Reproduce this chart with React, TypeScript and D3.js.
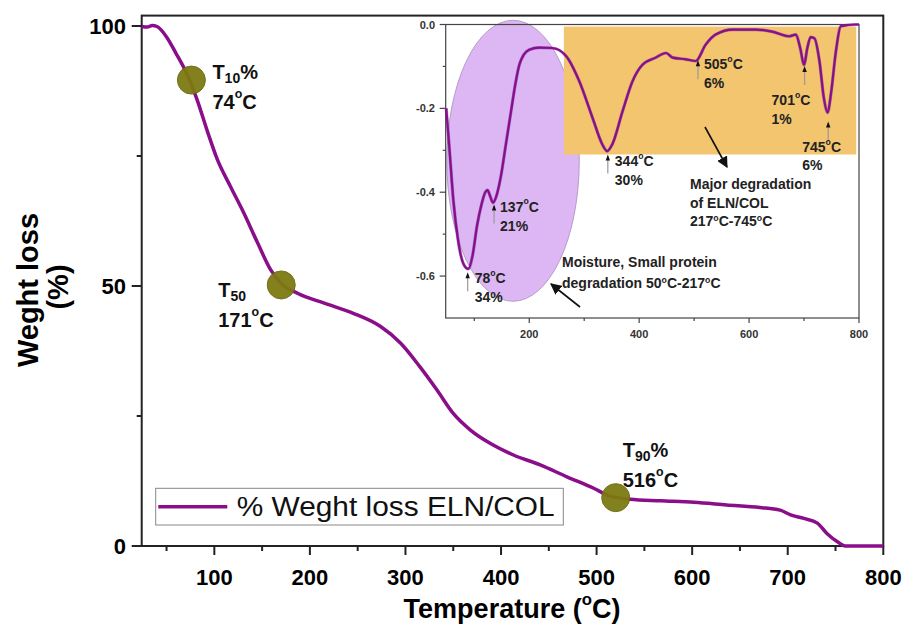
import * as d3 from "d3";
import React from "react";

const W = 906;
const H = 628;

// main TGA curve (temperature, % weight)
const tgaTemp = [24, 30, 35, 40, 50, 60, 71, 82, 93, 103, 117, 131, 145, 159, 170, 187, 215, 246, 274, 295, 315, 333, 350, 368, 389, 413, 441, 469, 497, 514, 535, 567, 602, 636, 671, 692, 703, 717, 731, 741, 752, 760, 800];
const tgaWeight = [99.9, 99.8, 100.1, 99.9, 97.9, 94.7, 90.9, 85.8, 79.6, 74.4, 69.1, 64, 58.4, 53.1, 50.5, 48.6, 46.7, 44.7, 42.2, 39, 34.5, 30, 25.5, 22.3, 19.7, 17.5, 15.6, 13.3, 11.1, 9.6, 9.0, 8.7, 8.4, 7.9, 7.4, 6.9, 6.0, 5.3, 4.4, 2.4, 0.8, 0, 0];

// inset DTG curve
const dtgTemp = [49, 55, 62, 70, 80, 89, 97, 105, 113, 120, 124, 129, 134, 140, 148, 157, 167, 175, 182, 190, 200, 218, 242, 267, 291, 315, 333, 342, 351, 370, 388, 406, 430, 449, 461, 485, 503, 521, 539, 570, 612, 642, 673, 685, 693, 700, 706, 712, 719, 728, 736, 743, 749, 758, 767, 794, 800];
const dtgValue = [-0.2, -0.3, -0.42, -0.51, -0.57, -0.583, -0.55, -0.48, -0.43, -0.4, -0.395, -0.41, -0.425, -0.41, -0.365, -0.29, -0.206, -0.14, -0.096, -0.072, -0.06, -0.055, -0.056, -0.075, -0.135, -0.222, -0.286, -0.302, -0.286, -0.206, -0.135, -0.096, -0.079, -0.068, -0.079, -0.083, -0.087, -0.048, -0.024, -0.012, -0.012, -0.017, -0.028, -0.024, -0.056, -0.096, -0.056, -0.03, -0.033, -0.087, -0.175, -0.21, -0.165, -0.064, -0.004, 0, 0];

const xTicksMain = [100, 200, 300, 400, 500, 600, 700, 800];
const xMinorMain = [50, 150, 250, 350, 450, 550, 650, 750];
const yTicksMain = [0, 50, 100];
const yMinorMain = [25, 75];
const xTicksInset = [200, 400, 600, 800];
const xMinorInset = [100, 300, 500, 700];
const yTicksInset = [0, -0.2, -0.4, -0.6];
const yMinorInset = [-0.1, -0.3, -0.5];

// T10 / T50 / T90 markers
const markTemp = [76, 170, 520];
const markWeight = [89.6, 50.2, 9.3];
const markSub = ["10", "50", "90"];
const markTail = ["%", "", "%"];
const markDeg = ["74", "171", "516"];

// DTG peaks
const peakTemp = [88, 136, 343, 507, 701, 744];
const peakDeg = ["78", "137", "344", "505", "701", "745"];
const peakPct = ["34%", "21%", "30%", "6%", "1%", "6%"];

const purple = "#8a0d8a";
const font = "Liberation Sans, Arial, sans-serif";

function Deg({ v, size }: { v: string; size: number }) {
  return (
    <>
      {v}
      <tspan dy={-size * 0.38} fontSize={size * 0.62}>o</tspan>
      <tspan dy={size * 0.38}>C</tspan>
    </>
  );
}

export default function App() {
  const x = d3.scaleLinear().domain([24, 800]).range([141.7, 883.3]);
  const y = d3.scaleLinear().domain([0, 102]).range([546, 15.6]);
  const xi = d3.scaleLinear().domain([48, 800]).range([445.7, 859]);
  const yi = d3.scaleLinear().domain([-0.7, 0]).range([318, 24.5]);
  const dtgAt = d3.scaleLinear().domain(dtgTemp).range(dtgValue);

  const mainLine = d3
    .line<number>()
    .x((d, i) => x(tgaTemp[i]))
    .y((d) => y(d))
    .curve(d3.curveMonotoneX);
  const dtgLine = d3
    .line<number>()
    .x((d, i) => xi(dtgTemp[i]))
    .y((d) => yi(d))
    .curve(d3.curveMonotoneX);

  // arrow/label offsets for the peak labels (px)
  const peakLayout = [
    { top: 4, tx: 7, ty: 6, gap: 19 },
    { top: 4, tx: 6, ty: 2, gap: 19 },
    { top: 4, tx: 7, ty: 7, gap: 19 },
    { top: 3, tx: 6, ty: 4, gap: 19 },
    { top: 4, tx: -33, ty: 34, gap: 19 },
    { top: 12, tx: -26, ty: 26, gap: 18 },
  ];
  const markLayout = [
    { dx: 21, dy: -8 },
    { dx: -63, dy: 5 },
    { dx: 7, dy: -48 },
  ];

  const ex0 = xi(50), ex1 = xi(291), ey0 = yi(0.01), ey1 = yi(-0.66);

  return (
    <svg width={W} height={H} style={{ position: "absolute", left: 0, top: 0, background: "#fff" }} fontFamily={font}>
      <defs>
        <marker id="ah" viewBox="0 0 10 10" refX="9" refY="5" markerWidth="7" markerHeight="7" orient="auto-start-reverse">
          <path d="M0,0 L10,5 L0,10 z" fill="#111" />
        </marker>
      </defs>

      {/* main frame */}
      <rect x={x(24)} y={y(102)} width={x(800) - x(24)} height={y(0) - y(102)} fill="none" stroke="#222" strokeWidth={2} />
      {xTicksMain.map((t) => (
        <g key={t}>
          <line x1={x(t)} x2={x(t)} y1={y(0)} y2={y(0) + 9} stroke="#222" strokeWidth={2} />
          <text x={x(t)} y={577} textAnchor="middle" dominantBaseline="central" fontSize={22} fontWeight="bold">{t}</text>
        </g>
      ))}
      {xMinorMain.map((t) => (
        <line key={t} x1={x(t)} x2={x(t)} y1={y(0)} y2={y(0) + 5} stroke="#222" strokeWidth={2} />
      ))}
      {yTicksMain.map((t) => (
        <g key={t}>
          <line x1={x(24) - 10} x2={x(24)} y1={y(t)} y2={y(t)} stroke="#222" strokeWidth={2} />
          <text x={126} y={y(t)} textAnchor="end" dominantBaseline="central" fontSize={22} fontWeight="bold">{t}</text>
        </g>
      ))}
      {yMinorMain.map((t) => (
        <line key={t} x1={x(24) - 5} x2={x(24)} y1={y(t)} y2={y(t)} stroke="#222" strokeWidth={2} />
      ))}

      <text transform="translate(28,290) rotate(-90)" textAnchor="middle" dominantBaseline="central" fontSize={29} fontWeight="bold">Weght loss</text>
      <text transform="translate(58,287) rotate(-90)" textAnchor="middle" dominantBaseline="central" fontSize={29} fontWeight="bold">(%)</text>
      <text x={512} y={609} textAnchor="middle" dominantBaseline="central" fontSize={27} fontWeight="bold">
        Temperature (<Deg v="" size={27} />)
      </text>

      {/* main curve */}
      <path d={mainLine(tgaWeight) ?? ""} fill="none" stroke={purple} strokeWidth={3.5} />

      {markTemp.map((t, i) => {
        const cx = x(t);
        const cy = y(markWeight[i]);
        const l = markLayout[i];
        return (
          <g key={i}>
            <circle cx={cx} cy={cy} r={14} fill="#7d7a12" stroke="#6b6a10" strokeWidth={1} opacity={0.95} />
            <text x={cx + l.dx} y={cy + l.dy} dominantBaseline="central" fontSize={20} fontWeight="bold" fill="#111">
              T<tspan dy={6} fontSize={14}>{markSub[i]}</tspan>
              <tspan dy={-6}>{markTail[i]}</tspan>
            </text>
            <text x={cx + l.dx} y={cy + l.dy + 30} dominantBaseline="central" fontSize={20} fontWeight="bold" fill="#111">
              <Deg v={markDeg[i]} size={20} />
            </text>
          </g>
        );
      })}

      {/* legend */}
      <rect x={155.7} y={488.3} width={407.6} height={36.7} fill="#fff" stroke="#888" strokeWidth={1} />
      <line x1={158.3} x2={227.3} y1={506.7} y2={506.7} stroke={purple} strokeWidth={3.5} />
      <text x={236.7} y={507} dominantBaseline="central" fontSize={27} fill="#111" textLength={318} lengthAdjust="spacingAndGlyphs">% Weght loss ELN/COL</text>

      {/* inset */}
      <rect x={xi(48)} y={yi(0)} width={xi(800) - xi(48)} height={yi(-0.7) - yi(0)} fill="#fff" />
      <ellipse cx={(ex0 + ex1) / 2} cy={(ey0 + ey1) / 2} rx={(ex1 - ex0) / 2} ry={(ey1 - ey0) / 2} fill="#dcb7f3" stroke="#b79bc9" strokeWidth={1} />
      <rect x={xi(263)} y={yi(-0.005)} width={xi(795) - xi(263)} height={yi(-0.31) - yi(-0.005)} fill="#f3c56f" />
      <rect x={xi(48)} y={yi(0)} width={xi(800) - xi(48)} height={yi(-0.7) - yi(0)} fill="none" stroke="#444" strokeWidth={1.2} />
      {xTicksInset.map((t) => (
        <g key={t}>
          <line x1={xi(t)} x2={xi(t)} y1={yi(-0.7)} y2={yi(-0.7) + 5} stroke="#444" strokeWidth={1.2} />
          <text x={xi(t)} y={334} textAnchor="middle" dominantBaseline="central" fontSize={11} fontWeight="bold" fill="#333">{t}</text>
        </g>
      ))}
      {xMinorInset.map((t) => (
        <line key={t} x1={xi(t)} x2={xi(t)} y1={yi(-0.7)} y2={yi(-0.7) + 3} stroke="#444" strokeWidth={1.2} />
      ))}
      {yTicksInset.map((t) => (
        <g key={t}>
          <line x1={xi(48) - 6} x2={xi(48)} y1={yi(t)} y2={yi(t)} stroke="#444" strokeWidth={1.2} />
          <text x={435} y={yi(t)} textAnchor="end" dominantBaseline="central" fontSize={11} fontWeight="bold" fill="#333">{t === 0 ? "0.0" : t.toFixed(1)}</text>
        </g>
      ))}
      {yMinorInset.map((t) => (
        <line key={t} x1={xi(48) - 3} x2={xi(48)} y1={yi(t)} y2={yi(t)} stroke="#444" strokeWidth={1.2} />
      ))}

      <path d={dtgLine(dtgValue) ?? ""} fill="none" stroke="#6a2aa0" strokeWidth={3.2} opacity={0.5} />
      <path d={dtgLine(dtgValue) ?? ""} fill="none" stroke={purple} strokeWidth={2.2} />

      {peakTemp.map((t, i) => {
        const px = xi(t);
        const l = peakLayout[i];
        const py = yi(dtgAt(t)) + l.top;
        return (
          <g key={i}>
            <line x1={px} x2={px} y1={py + 19} y2={py + 2} stroke="#999" strokeWidth={1.2} />
            <path d={`M${px - 2.2},${py + 6} L${px},${py} L${px + 2.2},${py + 6} z`} fill="#111" />
            <text x={px + l.tx} y={py + l.ty} dominantBaseline="central" fontSize={14} fontWeight="bold" fill="#222">
              <Deg v={peakDeg[i]} size={14} />
            </text>
            <text x={px + l.tx} y={py + l.ty + l.gap} dominantBaseline="central" fontSize={14} fontWeight="bold" fill="#222">{peakPct[i]}</text>
          </g>
        );
      })}

      <line x1={705} y1={127} x2={727} y2={167} stroke="#111" strokeWidth={1.6} markerEnd="url(#ah)" />
      <text fontSize={14} fontWeight="bold" fill="#222">
        <tspan x={690} y={189}>Major degradation</tspan>
        <tspan x={690} y={208}>of ELN/COL</tspan>
        <tspan x={690} y={226}><Deg v="217" size={14} />-<Deg v="745" size={14} /></tspan>
      </text>
      <line x1={580} y1={307} x2={551} y2={284} stroke="#111" strokeWidth={1.6} markerEnd="url(#ah)" />
      <text fontSize={14} fontWeight="bold" fill="#222">
        <tspan x={562} y={267}>Moisture, Small protein</tspan>
        <tspan x={562} y={288}>degradation <Deg v="50" size={14} />-<Deg v="217" size={14} /></tspan>
      </text>
    </svg>
  );
}
